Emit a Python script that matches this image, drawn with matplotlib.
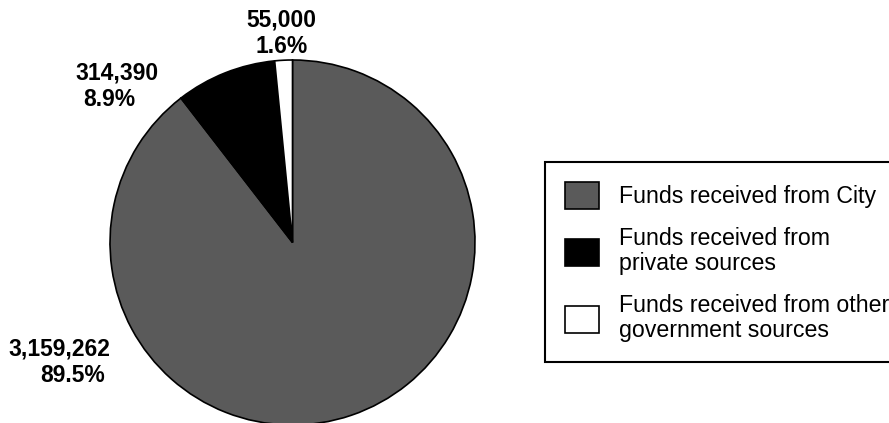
import matplotlib.pyplot as plt
plt.switch_backend('agg')

plt.rcParams['font.family'] = ['Liberation Sans', 'DejaVu Sans']

categories = ['Funds received from City',
              'Funds received from\nprivate sources',
              'Funds received from other\ngovernment sources']
amounts = [3159262, 314390, 55000]
colors = ['#5a5a5a', '#000000', '#ffffff']

W, H = 889, 423


def py(y):
    # pixel row (from top) -> axes y
    return H - y


fig = plt.figure(figsize=(W / 100, H / 100), dpi=100)
ax = fig.add_axes([0, 0, 1, 1])

wedges, _ = ax.pie(amounts, colors=colors, startangle=90, counterclock=False,
                   center=(292.5, py(242.5)), radius=182.5,
                   wedgeprops=dict(edgecolor='black', linewidth=1.2))
ax.set_xlim(0, W)
ax.set_ylim(0, H)
ax.set_aspect('equal')
ax.axis('off')

total = sum(amounts)
pcts = ['{:.1f}%'.format(100.0 * a / total) for a in amounts]
vals = ['{:,}'.format(a) for a in amounts]

# (x, y of value line, y of percent line, x of percent line)
label_pos = [
    (59, 349, 375, 73),
    (116.5, 73, 99, 109),
    (281, 20, 46.5, 281.5),
]
for i, (x1, y1, y2, x2) in enumerate(label_pos):
    ax.text(x1, py(y1), vals[i], ha='center', va='center', fontsize=16.5,
            fontweight='bold')
    ax.text(x2, py(y2), pcts[i], ha='center', va='center', fontsize=16.5,
            fontweight='bold')

leg = ax.legend(wedges, categories, loc='upper left',
                bbox_to_anchor=(545 / W, 1 - 162 / H),
                bbox_transform=fig.transFigure, borderaxespad=0,
                frameon=True, fancybox=False, edgecolor='black',
                framealpha=1, fontsize=16.7, handlelength=1.47,
                handleheight=1.4, handletextpad=0.86, labelspacing=0.8,
                borderpad=0.85)
leg.get_frame().set_linewidth(1.5)
for t in leg.get_texts():
    t.set_linespacing(1.12)

fig.savefig('out.png', dpi=100)
